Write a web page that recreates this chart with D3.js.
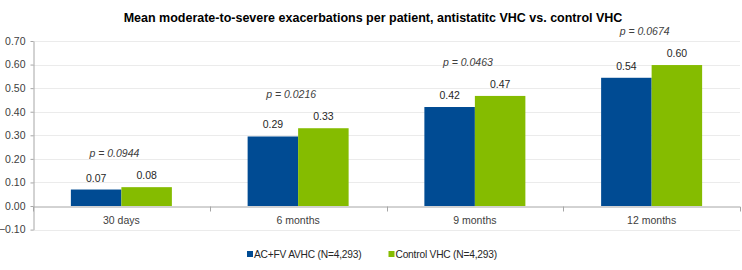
<!DOCTYPE html>
<html>
<head>
<meta charset="utf-8">
<script src="https://cdn.jsdelivr.net/npm/d3@7"></script>
<style>
  body { margin: 0; background: #fff; }
  text { font-family: "Liberation Sans", Arial, sans-serif; }
</style>
</head>
<body>
<div id="chart"></div>
<script>
const width = 742;
const height = 270;
const margins = { top: 41, left: 33, right: 2, bottom: 40 };

const chartTitle = 'Mean moderate-to-severe exacerbations per patient, antistatitc VHC vs. control VHC';
const periods = ['30 days', '6 months', '9 months', '12 months'];
const seriesNames = ['AC+FV AVHC (N=4,293)', 'Control VHC (N=4,293)'];
const avhcValues = [0.07, 0.295, 0.42, 0.544];
const controlValues = [0.08, 0.33, 0.467, 0.598];
const pValues = ['p = 0.0944', 'p = 0.0216', 'p = 0.0463', 'p = 0.0674'];
const yTicks = [-0.1, 0, 0.1, 0.2, 0.3, 0.4, 0.5, 0.6, 0.7];
const colors = ['#004b93', '#85bc00'];

const svg = d3.select('#chart')
    .append('svg')
    .attr('width', width)
    .attr('height', height);

// title
svg.append('text')
    .attr('x', 373)
    .attr('y', 22)
    .attr('text-anchor', 'middle')
    .style('font-size', '12.5px')
    .style('font-weight', 'bold')
    .attr('fill', '#000')
    .text(chartTitle);

const x0 = d3.scaleBand()
    .domain(periods)
    .range([margins.left, width - margins.right]);

const x1 = d3.scaleBand()
    .domain([0, 1])
    .range([0, x0.bandwidth()])
    .paddingOuter(0.75);

const y = d3.scaleLinear()
    .domain([-0.1, 0.7])
    .range([229.6, margins.top]);

// gridlines
svg.append('g')
    .selectAll('line')
    .data(yTicks.filter(d => d !== 0))
    .enter()
    .append('line')
    .attr('x1', margins.left)
    .attr('x2', width - margins.right)
    .attr('y1', d => Math.round(y(d)) + 0.5)
    .attr('y2', d => Math.round(y(d)) + 0.5)
    .attr('stroke', '#ebebeb');

// y-axis
const yAxis = d3.axisLeft(y)
    .tickValues(yTicks)
    .tickFormat(d3.format('.2f'))
    .tickSize(3)
    .tickSizeOuter(0)
    .tickPadding(5);

const gy = svg.append('g')
    .attr('transform', `translate(${margins.left + 0.5},0)`)
    .call(yAxis);
gy.selectAll('path, line').attr('stroke', '#a6a6a6');
gy.selectAll('text').attr('fill', '#404040').style('font-size', '10.5px');

// bars
const groups = svg.append('g')
    .selectAll('g')
    .data(periods)
    .enter()
    .append('g')
    .attr('transform', d => `translate(${x0(d)},0)`);

const barData = (d, i) => [avhcValues[i], controlValues[i]];

groups.selectAll('rect')
    .data(barData)
    .enter()
    .append('rect')
    .attr('x', (d, j) => x1(j))
    .attr('y', d => y(d))
    .attr('width', x1.bandwidth())
    .attr('height', d => y(0) - y(d))
    .attr('fill', (d, j) => colors[j]);

groups.selectAll('text.value')
    .data(barData)
    .enter()
    .append('text')
    .attr('class', 'value')
    .attr('x', (d, j) => x1(j) + x1.bandwidth() / 2)
    .attr('y', d => y(d) - 8)
    .attr('text-anchor', 'middle')
    .attr('fill', '#262626')
    .style('font-size', '10.5px')
    .text(d => d3.format('.2f')(d));

// p values
groups.append('text')
    .attr('x', x0.bandwidth() / 2 - 7)
    .attr('y', (d, i) => y(Math.max(avhcValues[i], controlValues[i])) - 30)
    .attr('text-anchor', 'middle')
    .attr('fill', '#404040')
    .style('font-size', '10.5px')
    .style('font-style', 'italic')
    .text((d, i) => pValues[i]);

// x-axis
const xAxis = d3.axisBottom(x0)
    .tickSize(0)
    .tickSizeOuter(5)
    .tickPadding(10);

const gx = svg.append('g')
    .attr('transform', `translate(0,${Math.round(y(0)) + 0.5})`)
    .call(xAxis);
gx.select('path').attr('stroke', '#a6a6a6');
gx.selectAll('text').attr('fill', '#404040').style('font-size', '10.5px');

gx.selectAll('line.sep')
    .data(periods.slice(1))
    .enter()
    .append('line')
    .attr('class', 'sep')
    .attr('x1', d => Math.round(x0(d)) + 0.5)
    .attr('x2', d => Math.round(x0(d)) + 0.5)
    .attr('y1', 0)
    .attr('y2', 5)
    .attr('stroke', '#a6a6a6');

// legend
const legendX = [247, 388.5];
const legend = svg.append('g')
    .selectAll('g')
    .data(seriesNames)
    .enter()
    .append('g')
    .attr('transform', (d, i) => `translate(${legendX[i]},254)`);

legend.append('rect')
    .attr('x', 0)
    .attr('y', -3)
    .attr('width', 6)
    .attr('height', 6)
    .attr('fill', (d, i) => colors[i]);

legend.append('text')
    .attr('x', 7)
    .attr('y', 4)
    .attr('fill', '#262626')
    .style('font-size', '10.2px')
    .style('letter-spacing', '-0.2px')
    .text(d => d);
</script>
</body>
</html>
